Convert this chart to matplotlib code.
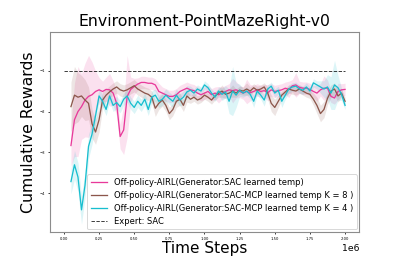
import numpy as np
import matplotlib
matplotlib.use("Agg")
import matplotlib.pyplot as plt

# data (step 25k from 50k to 2M)
steps = np.arange(0.05, 2.0001, 0.025) * 1e6

sac_mean = [-2.83, -2.20, -2.00, -1.88, -1.72, -1.63, -1.59, -1.51, -1.47, -1.51,
            -1.46, -1.47, -1.55, -1.80, -2.61, -2.45, -1.63, -1.46, -1.39, -1.33,
            -1.29, -1.29, -1.31, -1.31, -1.35, -1.51, -1.55, -1.59, -1.63, -1.63,
            -1.59, -1.51, -1.47, -1.43, -1.47, -1.49, -1.55, -1.59, -1.55, -1.51,
            -1.59, -1.55, -1.59, -1.55, -1.51, -1.47, -1.49, -1.47, -1.51, -1.55,
            -1.51, -1.54, -1.51, -1.47, -1.51, -1.49, -1.54, -1.47, -1.51, -1.49,
            -1.47, -1.43, -1.46, -1.37, -1.35, -1.41, -1.43, -1.43, -1.46, -1.51,
            -1.55, -1.47, -1.43, -1.43, -1.63, -1.67, -1.51, -1.47, -1.46]
sac_std = [0.5, 0.9, 1.1, 0.8, 0.9, 1.0, 0.8, 0.5, 0.3, 0.25,
           0.3, 0.4, 0.3, 0.3, 0.3, 0.6, 1.0, 0.3, 0.2, 0.15,
           0.15, 0.15, 0.15, 0.15, 0.15, 0.2, 0.15, 0.15, 0.15, 0.15,
           0.15, 0.15, 0.15, 0.15, 0.15, 0.15, 0.15, 0.15, 0.15, 0.15,
           0.15, 0.15, 0.2, 0.15, 0.15, 0.15, 0.3, 0.2, 0.15, 0.15,
           0.3, 0.2, 0.15, 0.15, 0.15, 0.15, 0.2, 0.15, 0.15, 0.15,
           0.15, 0.15, 0.2, 0.15, 0.3, 0.15, 0.15, 0.15, 0.15, 0.15,
           0.2, 0.15, 0.3, 0.2, 0.15, 0.15, 0.2, 0.15, 0.15]

mcp8_mean = [-1.88, -1.60, -1.65, -1.62, -1.72, -1.80, -2.30, -2.50, -2.20, -1.72,
             -1.60, -1.52, -1.45, -1.40, -1.47, -1.50, -1.47, -1.42, -1.37, -1.45,
             -1.50, -1.55, -1.58, -1.65, -1.92, -1.80, -1.72, -1.85, -2.05, -1.95,
             -1.75, -1.70, -1.85, -1.62, -1.70, -1.65, -1.72, -1.68, -1.60, -1.65,
             -1.72, -1.62, -1.55, -1.50, -1.58, -1.55, -1.50, -1.55, -1.48, -1.50,
             -1.45, -1.50, -1.42, -1.48, -1.45, -1.40, -1.55, -1.80, -1.90, -1.75,
             -1.60, -1.52, -1.45, -1.48, -1.50, -1.45, -1.50, -1.55, -1.58, -1.70,
             -1.85, -2.05, -1.95, -1.68, -1.50, -1.45, -1.62, -1.55, -1.75]
mcp8_std = [0.6, 0.7, 0.6, 0.5, 0.5, 0.4, 0.35, 0.3, 0.3, 0.2,
            0.15, 0.15, 0.15, 0.15, 0.15, 0.15, 0.15, 0.15, 0.15, 0.15,
            0.15, 0.15, 0.15, 0.15, 0.2, 0.15, 0.15, 0.15, 0.15, 0.15,
            0.15, 0.15, 0.15, 0.15, 0.1, 0.1, 0.1, 0.1, 0.1, 0.1,
            0.1, 0.1, 0.1, 0.15, 0.1, 0.1, 0.15, 0.1, 0.1, 0.1,
            0.15, 0.1, 0.1, 0.1, 0.1, 0.1, 0.15, 0.2, 0.2, 0.15,
            0.1, 0.1, 0.1, 0.1, 0.1, 0.1, 0.1, 0.1, 0.1, 0.15,
            0.2, 0.2, 0.2, 0.15, 0.15, 0.15, 0.15, 0.1, 0.1]

mcp4_mean = [-3.71, -3.30, -3.60, -4.40, -3.80, -2.85, -2.55, -2.10, -1.62, -1.75,
             -1.95, -1.62, -1.85, -1.78, -1.88, -1.70, -1.62, -1.80, -1.90, -1.75,
             -1.85, -1.70, -1.95, -1.65, -1.60, -1.75, -1.70, -1.60, -1.68, -1.75,
             -1.60, -1.72, -1.65, -1.52, -1.48, -1.55, -1.45, -1.50, -1.35, -1.42,
             -1.55, -1.65, -1.50, -1.58, -1.52, -1.75, -1.50, -1.60, -1.48, -1.55,
             -1.50, -1.58, -1.75, -1.50, -1.60, -1.72, -1.45, -1.38, -1.55, -1.48,
             -1.75, -1.60, -1.45, -1.40, -1.38, -1.45, -1.48, -1.40, -1.50, -1.30,
             -1.35, -1.40, -1.45, -1.40, -1.55, -1.35, -1.42, -1.58, -1.85]
mcp4_std = [0.3, 0.35, 0.35, 0.35, 0.3, 0.3, 0.25, 0.2, 0.2, 0.15,
            0.15, 0.15, 0.15, 0.15, 0.15, 0.15, 0.15, 0.15, 0.15, 0.15,
            0.15, 0.15, 0.15, 0.15, 0.15, 0.15, 0.15, 0.15, 0.15, 0.15,
            0.15, 0.15, 0.15, 0.15, 0.1, 0.1, 0.1, 0.1, 0.1, 0.1,
            0.1, 0.1, 0.1, 0.15, 0.15, 0.3, 0.6, 0.3, 0.15, 0.1,
            0.1, 0.1, 0.15, 0.1, 0.1, 0.15, 0.1, 0.1, 0.1, 0.1,
            0.15, 0.1, 0.1, 0.1, 0.1, 0.1, 0.1, 0.1, 0.1, 0.1,
            0.1, 0.15, 0.2, 0.3, 0.4, 0.6, 0.3, 0.15, 0.1]

expert_x = [0, 2.0e6]
expert_y = [-1.0, -1.0]

labels = ["Off-policy-AIRL(Generator:SAC learned temp)",
          "Off-policy-AIRL(Generator:SAC-MCP learned temp K = 8 )",
          "Off-policy-AIRL(Generator:SAC-MCP learned temp K = 4 )",
          "Expert: SAC"]
colors = ["#e8399a", "#8c564b", "#17becf"]

# plot
fig = plt.figure(figsize=(6, 4), dpi=66.5)
ax = fig.add_axes([0.125, 0.128, 0.775, 0.753])

for m, s, c, lab in zip([sac_mean, mcp8_mean, mcp4_mean],
                        [sac_std, mcp8_std, mcp4_std], colors, labels[:3]):
    m = np.array(m)
    s = np.array(s)
    ax.fill_between(steps, m - s, m + s, color=c, alpha=0.15, lw=0)
    ax.plot(steps, m, color=c, lw=1.4, label=lab)

ax.plot(expert_x, expert_y, "k--", lw=1, alpha=0.8, label=labels[3])

ax.set_xlim(-0.1e6, 2.1e6)
ax.set_ylim(-4.94, -0.05)
ax.set_yticks([-1, -2, -3, -4])
ax.set_xticks(np.arange(0, 2.01, 0.25) * 1e6)
ax.tick_params(labelsize=4, length=2)
ax.xaxis.get_offset_text().set_fontsize(10)
for sp in ax.spines.values():
    sp.set_color("0.55")
    sp.set_linewidth(1.2)

ax.set_title("Environment-PointMazeRight-v0", fontsize=17)
ax.set_xlabel("Time Steps", fontsize=16.5, labelpad=0)
ax.set_ylabel("Cumulative Rewards", fontsize=17)
ax.legend(loc="lower right", fontsize=9, borderaxespad=0.3)

plt.savefig("out.png")
